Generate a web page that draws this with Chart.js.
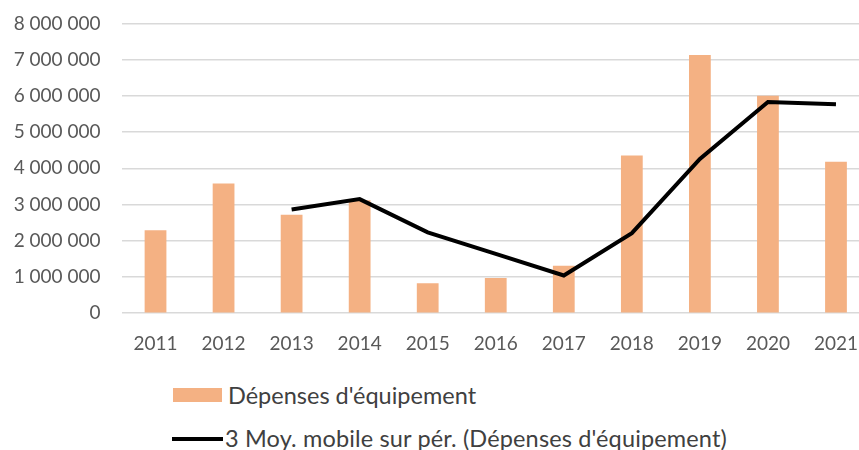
<!DOCTYPE html>
<html>
<head>
<meta charset="utf-8">
<script src="https://cdn.jsdelivr.net/npm/chart.js@4/dist/chart.umd.min.js"></script>
<style>
  body { margin: 0; background: #fff; overflow: hidden; width: 859px; height: 450px; position: relative; font-family: Lato, "Open Sans", sans-serif; }
  #wrap { position: absolute; left: 0; top: -9px; width: 871px; height: 375px; }
  .lg-text { position: absolute; font-size: 23.5px; color: #404040; white-space: nowrap; line-height: 28px; }
  .lg-box { position: absolute; background: #F4B183; }
  .lg-line { position: absolute; background: #000; }
</style>
</head>
<body>
<div id="wrap"><canvas id="chart" width="871" height="375"></canvas></div>

<!-- legend -->
<div class="lg-box" style="left:173px; top:388px; width:49px; height:14px;"></div>
<div class="lg-text" style="left:228px; top:381px;">Dépenses d'équipement</div>
<div class="lg-line" style="left:172px; top:437px; width:51px; height:4px;"></div>
<div class="lg-text" style="left:225px; top:424px; letter-spacing:0.15px;">3 Moy. mobile sur pér. (Dépenses d'équipement)</div>

<script>
// === DATA ===
let years = ["2011", "2012", "2013", "2014", "2015", "2016", "2017", "2018", "2019", "2020", "2021"];
let depenses = [2290000, 3580000, 2720000, 3120000, 830000, 970000, 1310000, 4350000, 7130000, 6000000, 4180000];
let moyMobile = [null, null, 2860000, 3150000, 2230000, 1640000, 1040000, 2210000, 4260000, 5830000, 5770000];
let yTicks = [0, 1000000, 2000000, 3000000, 4000000, 5000000, 6000000, 7000000, 8000000];

// === FORMAT "8 000 000" ===
function fmt(v) {
  return String(v).replace(/\B(?=(\d{3})+(?!\d))/g, " ");
}

// === CHART ===
new Chart(document.getElementById("chart"), {
  type: "bar",
  data: {
    labels: years,
    datasets: [
      {
        type: "line",
        label: "3 Moy. mobile sur pér. (Dépenses d'équipement)",
        data: moyMobile,
        borderColor: "#000000",
        borderWidth: 4,
        pointRadius: 0,
        tension: 0,
        order: 0
      },
      {
        label: "Dépenses d'équipement",
        data: depenses,
        backgroundColor: "#F4B183",
        barPercentage: 0.32,
        categoryPercentage: 1,
        order: 1
      }
    ]
  },
  options: {
    responsive: false,
    animation: false,
    devicePixelRatio: 1,
    layout: { padding: { top: 4, right: 1, left: 0, bottom: 0 } },
    plugins: {
      legend: { display: false },
      tooltip: { enabled: false }
    },
    scales: {
      x: {
        grid: { display: false },
        border: { display: false },
        ticks: {
          color: "#595959",
          font: { family: "Lato", size: 19 },
          padding: 11,
          maxRotation: 0
        }
      },
      y: {
        min: 0,
        max: 8000000,
        afterFit: (s) => { s.width = 121.5; },
        afterBuildTicks: (s) => { s.ticks = yTicks.map(v => ({ value: v })); },
        grid: { color: "#d9d9d9", lineWidth: 1.5, drawTicks: false, tickLength: 0 },
        border: { display: false },
        ticks: {
          color: "#595959",
          font: { family: "Lato", size: 19 },
          padding: 21,
          callback: (v) => fmt(v)
        }
      }
    }
  }
});
</script>
</body>
</html>
